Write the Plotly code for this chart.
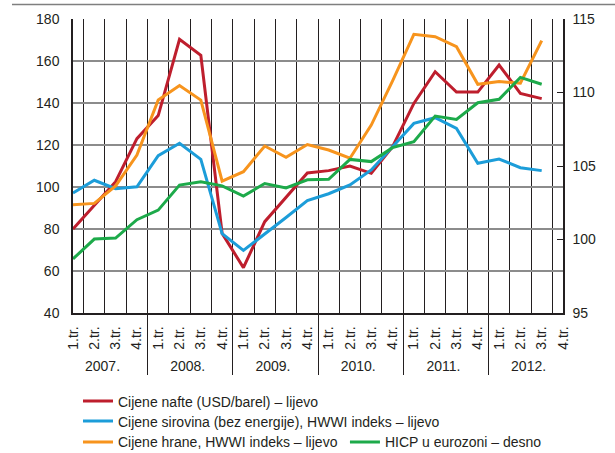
import plotly.graph_objects as go

years = ["2007.", "2008.", "2009.", "2010.", "2011.", "2012."]
quarters = ["1.tr.", "2.tr.", "3.tr.", "4.tr."]

oil = [80, 91.5, 102.5, 123, 134, 170.3, 162.7, 77.9, 61.6, 83.5, 95, 106.7,
       107.8, 110, 106.5, 119.2, 139.8, 154.9, 145.2, 145.2, 158.1, 144.6, 142.1, None]
raw = [97.2, 103.2, 99.2, 100.1, 114.9, 120.8, 113.2, 77.8, 69.8, 77.5, 85.5, 93.5,
       96.8, 101, 108.1, 119.2, 130.3, 133, 127.9, 111.3, 113.3, 109.2, 107.8, None]
food = [91.6, 92.2, 100.5, 115.2, 141.4, 148.3, 141.4, 102.8, 107.3, 119.5, 114.1, 120.2,
        117.6, 113.7, 129.5, 150.5, 172.7, 171.6, 166.8, 148.9, 150.2, 149.4, 169.7, None]
hicp = [98.68, 100.03, 100.1, 101.35, 102.0, 103.7, 103.92, 103.65, 102.95, 103.81, 103.51, 104.06,
        104.1, 105.45, 105.3, 106.25, 106.66, 108.4, 108.17, 109.3, 109.54, 111.03, 110.56, None]

names = ["Cijene nafte (USD/barel) – lijevo",
         "Cijene sirovina (bez energije), HWWI indeks – lijevo",
         "Cijene hrane, HWWI indeks – lijevo",
         "HICP u eurozoni – desno"]
colors = ["#BE1E2D", "#1C9DD9", "#F7941D", "#1DAA4A"]

x = [[y for y in years for q in quarters], [q for y in years for q in quarters]]

REG = "Liberation Sans, Arial, Helvetica, sans-serif"

fig = go.Figure()
series = [oil, raw, food, hicp]
legends = ["legend", "legend2", "legend3", "legend4"]
for i, s in enumerate(series):
    fig.add_trace(go.Scatter(
        x=x, y=s, name=names[i], mode="lines",
        line=dict(color=colors[i], width=3),
        yaxis="y2" if i == 3 else "y",
        legend=legends[i], showlegend=True, connectgaps=False))

leg_common = dict(bgcolor="rgba(0,0,0,0)", borderwidth=0,
                  font=dict(family=REG, size=14, color="#231F20"),
                  xanchor="left", yanchor="middle", orientation="h")

fig.update_layout(
    width=615, height=453, showlegend=True,
    margin=dict(l=73, r=52, t=19, b=140, autoexpand=False),
    paper_bgcolor="white", plot_bgcolor="white",
    font=dict(family=REG, size=14, color="#231F20"),
    xaxis=dict(type="multicategory", tickson="boundaries", showgrid=True,
               gridcolor="#231F20", gridwidth=1.3, showline=True,
               linecolor="#231F20", linewidth=1.5, showdividers=True,
               dividercolor="#231F20", dividerwidth=1.3, tickangle=-90,
               ticks="", ticklabelstandoff=6, tickfont=dict(size=14)),
    yaxis=dict(range=[40, 180], dtick=20, showgrid=True, gridcolor="#8C8C8C",
               gridwidth=2, showline=True, linecolor="#231F20", linewidth=1.5,
               zeroline=False, ticks="", ticklabelstandoff=9,
               tickfont=dict(size=14)),
    yaxis2=dict(range=[95, 115], dtick=5, overlaying="y", side="right",
                showgrid=False, zeroline=False, showline=True,
                linecolor="#231F20", linewidth=1.5, ticks="inside", ticklen=6,
                tickcolor="#231F20", ticklabelstandoff=5, tickfont=dict(size=14)),
    legend=dict(x=0.0102, y=-0.301, **leg_common),
    legend2=dict(x=0.0102, y=-0.369, **leg_common),
    legend3=dict(x=0.0102, y=-0.44, **leg_common),
    legend4=dict(x=0.555, y=-0.44, **leg_common),
    shapes=[dict(type="line", xref="paper", yref="paper", x0=-0.1245, x1=1.11,
                 y0=1.049, y1=1.049, layer="above",
                 line=dict(color="#7F7F7F", width=1.5))],
)

fig.write_html("out.html", config={"displayModeBar": False},
               post_script="document.body.style.margin='0';")
